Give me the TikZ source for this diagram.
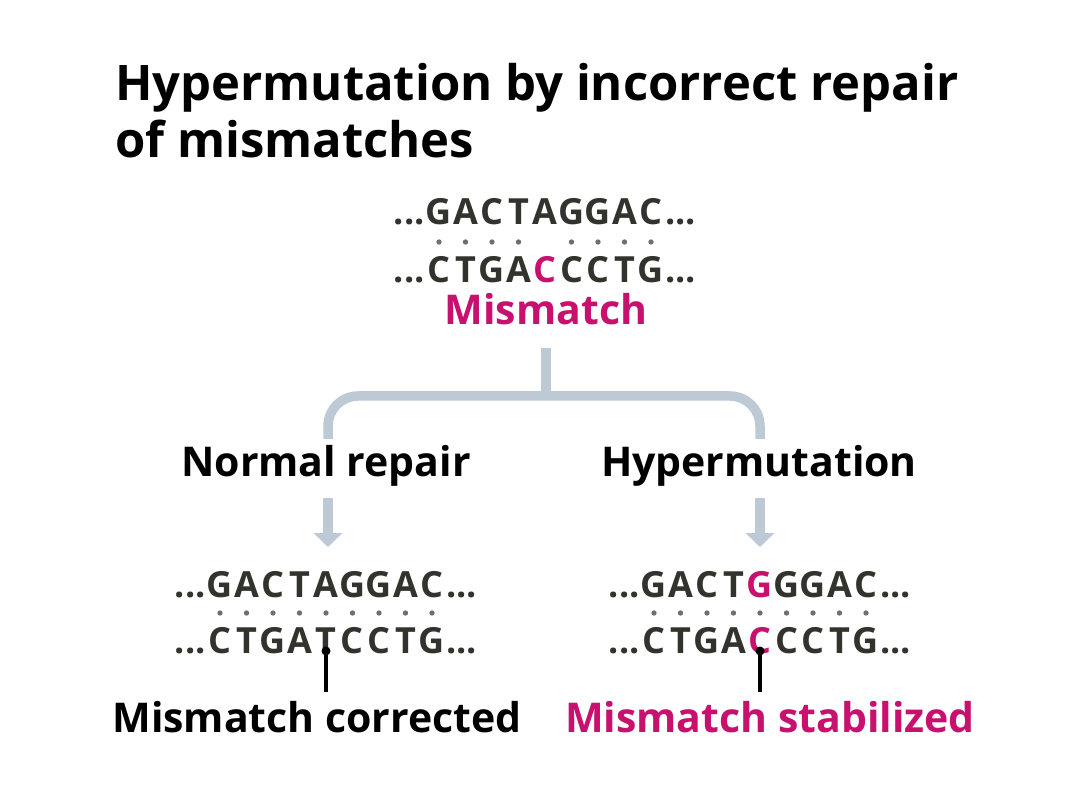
\documentclass[tikz,border=0pt]{standalone}
\usepackage{fontspec}
\setmainfont{Open Sans}
\usetikzlibrary{arrows.meta}
\definecolor{mag}{HTML}{C8106E}
\definecolor{dnatext}{HTML}{33332D}
\definecolor{pairgray}{HTML}{707068}
\definecolor{flowblue}{HTML}{BDC9D4}
\newcommand{\bs}[1]{\makebox[26.5pt]{#1}}
\newcommand{\mg}[1]{\textcolor{mag}{#1}}
\newcommand{\lell}{\makebox[0pt][r]{...\hspace{1pt}}}
\newcommand{\rell}{\makebox[0pt][l]{\hspace{1pt}...}}
\begin{document}
\begin{tikzpicture}[x=1pt,y=-1pt,
  titletext/.style={font=\fontsize{49}{58}\selectfont\bfseries, anchor=base west, inner sep=0pt},
  dnatext/.style={font=\fontsize{36}{42}\selectfont\bfseries, text=dnatext, anchor=base, inner sep=0pt},
  labeltext/.style={font=\fontsize{41}{48}\selectfont\bfseries, anchor=base, inner sep=0pt},
  pairdot/.style={fill=pairgray},
  flowline/.style={draw=flowblue, line width=9.5pt},
  flowarrow/.style={draw=flowblue, line width=9.5pt, -{Triangle[width=28pt,length=14pt]}},
  pointer/.style={draw=black, line width=4pt}]
\useasboundingbox (0,0) rectangle (1080,810);
\fill[white] (0,0) rectangle (1080,810);

% title
\node[titletext] (t1) at (115,101) {Hypermutation by incorrect repair};
\node[titletext] (t2) at (115,158) {of mismatches};

% top duplex
\node[dnatext] (top1) at (545,225) {\lell\bs{G}\bs{A}\bs{C}\bs{T}\bs{A}\bs{G}\bs{G}\bs{A}\bs{C}\rell};
\node[dnatext] (top2) at (545,283) {\lell\bs{C}\bs{T}\bs{G}\bs{A}\bs{\mg{C}}\bs{C}\bs{C}\bs{T}\bs{G}\rell};
\foreach \i in {0,1,2,3,5,6,7,8}
  \fill[pairdot] ({439+26.5*\i},242) circle (2.7);
\node[labeltext, text=mag] (mm) at (546,325) {Mismatch};

% branching connector
\coordinate (stemtop) at (546,348);
\coordinate (split) at (546,396);
\coordinate (lend) at (328,439);
\coordinate (rend) at (760,439);
\draw[flowline] (stemtop) -- (split);
\draw[flowline, rounded corners=30pt] (lend) |- (split) -| (rend);

% branch labels
\node[labeltext] (nr) at (326,477) {Normal repair};
\node[labeltext] (hm) at (759,477) {Hypermutation};

% arrows
\coordinate (la0) at (328,498);
\coordinate (la1) at (328,547);
\coordinate (ra0) at (760,498);
\coordinate (ra1) at (760,547);
\draw[flowarrow] (la0) -- (la1);
\draw[flowarrow] (ra0) -- (ra1);

% left result duplex
\node[dnatext] (l1) at (326,597) {\lell\bs{G}\bs{A}\bs{C}\bs{T}\bs{A}\bs{G}\bs{G}\bs{A}\bs{C}\rell};
\node[dnatext] (l2) at (326,653) {\lell\bs{C}\bs{T}\bs{G}\bs{A}\bs{T}\bs{C}\bs{C}\bs{T}\bs{G}\rell};
\foreach \i in {0,...,8}
  \fill[pairdot] ({220+26.5*\i},613) circle (2.7);

% right result duplex
\node[dnatext] (r1) at (760,597) {\lell\bs{G}\bs{A}\bs{C}\bs{T}\bs{\mg{G}}\bs{G}\bs{G}\bs{A}\bs{C}\rell};
\node[dnatext] (r2) at (760,653) {\lell\bs{C}\bs{T}\bs{G}\bs{A}\bs{\mg{C}}\bs{C}\bs{C}\bs{T}\bs{G}\rell};
\foreach \i in {0,...,8}
  \fill[pairdot] ({654+26.5*\i},613) circle (2.7);

% pointers
\coordinate (lp0) at (326,651);
\coordinate (lp1) at (326,692);
\coordinate (rp0) at (760,651);
\coordinate (rp1) at (760,692);
\fill (lp0) circle (4.5);
\fill (rp0) circle (4.5);
\draw[pointer] (lp0) -- (lp1);
\draw[pointer] (rp0) -- (rp1);

% result labels
\node[labeltext] (mc) at (317,732) {Mismatch corrected};
\node[labeltext, text=mag] (ms) at (770,732) {Mismatch stabilized};
\end{tikzpicture}
\end{document}
